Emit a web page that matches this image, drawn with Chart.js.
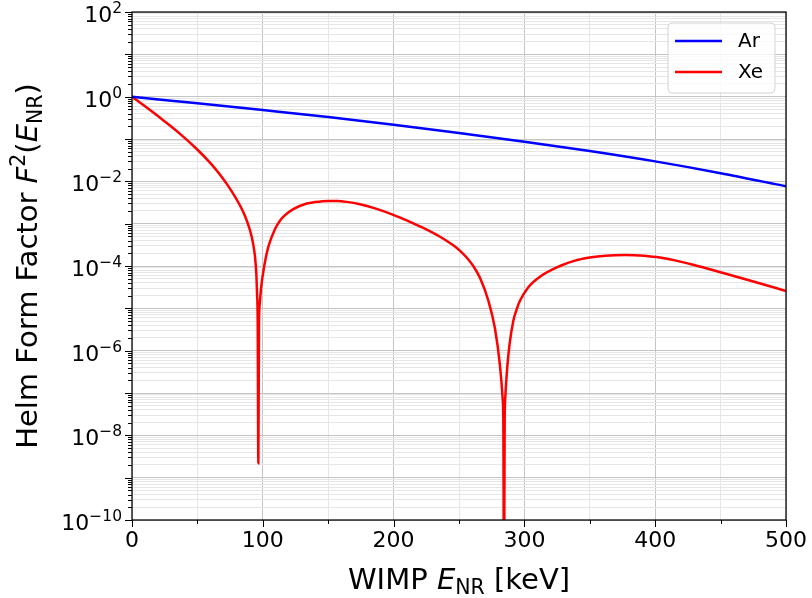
<!DOCTYPE html>
<html>
<head>
<meta charset="utf-8">
<title>Helm form factor</title>
<script src="https://cdn.jsdelivr.net/npm/chart.js@4.4.1/dist/chart.umd.min.js"></script>
<style>
  html, body { margin: 0; padding: 0; background: #fff; }
  #wrap { width: 812px; height: 598px; }
</style>
</head>
<body>
<div id="wrap"><canvas id="ffChart"></canvas></div>
<script>
// recoil energy [keV] vs squared Helm form factor, argon
const arEnergy = [0, 50, 100, 150, 200, 250, 300, 350, 400, 450, 500];
const arF2 = [1.0, 0.695, 0.483, 0.332, 0.217, 0.138, 0.0865, 0.0521, 0.0296, 0.0156, 0.00764];

// xenon, two diffraction minima near 97 and 284 keV
const xeEnergy = [0, 12, 24, 36.7, 49.5, 59.6, 67.3, 74.9, 82.6, 86.4,
  90.2, 92.5, 94, 95.1, 95.6, 96.1, 96.6, 97.1, 97.6, 98.6,
  101.1, 104.2, 109.3, 113.1, 117, 123.3, 133.6, 140, 150, 157,
  164, 174.3, 187, 199.8, 211, 222.7, 235.5, 245.6, 250.8, 255.5,
  260.9, 266.1, 272.4, 277.5, 281.3, 283.4, 283.9, 284.4, 284.9, 285.4,
  286.5, 288.5, 291.5, 294.1, 296.6, 303, 311.9, 327.2, 338, 350,
  362, 377, 388, 395, 401, 408, 415, 429, 452, 475,
  500];
const xeF2 = [1.0, 0.530, 0.275, 0.1324, 0.0581, 0.0276, 0.01432, 6.75e-3, 2.69e-3, 1.51e-3,
  6.98e-4, 3.51e-4, 1.70e-4, 6.17e-5, 2.19e-5, 5.0e-6, 2.2e-9, 5.0e-6, 1.2e-5, 2.88e-5,
  1.0e-4, 2.82e-4, 7.41e-4, 1.175e-3, 1.585e-3, 2.21e-3, 2.985e-3, 3.236e-3, 3.44e-3, 3.43e-3,
  3.27e-3, 2.87e-3, 2.24e-3, 1.62e-3, 1.16e-3, 7.94e-4, 4.9e-4, 3.08e-4, 2.28e-4, 1.63e-4,
  1.0e-4, 5.18e-5, 1.53e-5, 3.33e-6, 4.47e-7, 7.1e-8, 2e-8, 1e-12, 2e-8, 8e-8,
  2.8e-7, 1.29e-6, 5.0e-6, 9.5e-6, 1.51e-5, 3.16e-5, 5.6e-5, 1.0e-4, 1.32e-4, 1.58e-4,
  1.75e-4, 1.82e-4, 1.77e-4, 1.71e-4, 1.63e-4, 1.51e-4, 1.36e-4, 1.07e-4, 6.84e-5, 4.32e-5,
  2.57e-5];

const xTickValues = [0, 100, 200, 300, 400, 500];
const yLabelExponents = [2, 0, -2, -4, -6, -8, -10];

const FONT = '"DejaVu Sans", sans-serif';

function toPoints(xs, ys) {
  return xs.map((x, i) => ({ x: x, y: ys[i] }));
}

function isDecade(v) {
  const l = Math.log10(v);
  return Math.abs(l - Math.round(l)) < 1e-6;
}

// draw a run of text pieces: [text, font, dy]
function drawPieces(ctx, pieces, x, y, align) {
  let total = 0;
  pieces.forEach(p => { ctx.font = p[1]; total += ctx.measureText(p[0]).width; });
  let cx = align === 'center' ? x - total / 2 : align === 'right' ? x - total : x;
  ctx.textAlign = 'left';
  pieces.forEach(p => {
    ctx.font = p[1];
    ctx.fillText(p[0], cx, y + (p[2] || 0));
    cx += ctx.measureText(p[0]).width;
  });
}

// frame, tick marks, tick labels, axis titles and legend
const axesDecor = {
  id: 'axesDecor',
  afterDraw(chart) {
    const { ctx, chartArea: a, scales } = chart;
    const x = scales.x, y = scales.y;
    ctx.save();
    ctx.strokeStyle = '#000';
    ctx.fillStyle = '#000';
    ctx.lineWidth = 1.25;
    ctx.strokeRect(a.left, a.top, a.right - a.left, a.bottom - a.top);

    ctx.lineWidth = 1;
    ctx.beginPath();
    x.ticks.forEach(t => {
      const px = Math.round(x.getPixelForValue(t.value)) + 0.5;
      const len = t.value % 100 === 0 ? 7 : 4;
      ctx.moveTo(px, a.bottom);
      ctx.lineTo(px, a.bottom + len);
    });
    y.ticks.forEach(t => {
      const py = Math.round(y.getPixelForValue(t.value)) + 0.5;
      const len = isDecade(t.value) ? 7 : 4;
      ctx.moveTo(a.left, py);
      ctx.lineTo(a.left - len, py);
    });
    ctx.stroke();

    // x tick labels
    ctx.font = '22px ' + FONT;
    ctx.textAlign = 'center';
    ctx.textBaseline = 'top';
    xTickValues.forEach(v => {
      ctx.fillText(String(v), x.getPixelForValue(v), a.bottom + 10);
    });

    // y tick labels as powers of ten
    ctx.textBaseline = 'alphabetic';
    yLabelExponents.forEach(e => {
      const py = y.getPixelForValue(Math.pow(10, e));
      const expText = e < 0 ? '\u2212' + Math.abs(e) : String(e);
      drawPieces(ctx, [
        ['10', '22px ' + FONT, 0],
        [expText, '15.5px ' + FONT, -9]
      ], a.left - 10, py + 10, 'right');
    });

    // axis titles
    const big = '29px ' + FONT;
    const bigIt = 'italic 29px ' + FONT;
    const small = '20.5px ' + FONT;
    drawPieces(ctx, [
      ['WIMP ', big, 0],
      ['E', bigIt, 0],
      ['NR', small, 5],
      [' [keV]', big, 0]
    ], (a.left + a.right) / 2, 589, 'center');

    ctx.save();
    ctx.translate(37, (a.top + a.bottom) / 2);
    ctx.rotate(-Math.PI / 2);
    drawPieces(ctx, [
      ['Helm Form Factor ', big, 0],
      ['F', bigIt, 0],
      ['2', small, -12],
      ['(', big, 0],
      ['E', bigIt, 0],
      ['NR', small, 5],
      [')', big, 0]
    ], 0, 0, 'center');
    ctx.restore();

    // legend box in the upper right corner
    const bx = a.right - 118, by = a.top + 11, bw = 107, bh = 70;
    ctx.beginPath();
    ctx.roundRect(bx, by, bw, bh, 4);
    ctx.fillStyle = 'rgba(255,255,255,0.8)';
    ctx.fill();
    ctx.strokeStyle = '#d3d3d3';
    ctx.lineWidth = 1;
    ctx.stroke();
    ctx.textBaseline = 'middle';
    ctx.textAlign = 'left';
    ctx.font = '20px ' + FONT;
    chart.data.datasets.forEach((ds, i) => {
      const ly = by + 18 + i * 31;
      ctx.strokeStyle = ds.borderColor;
      ctx.lineWidth = 2.5;
      ctx.beginPath();
      ctx.moveTo(bx + 7, ly);
      ctx.lineTo(bx + 54, ly);
      ctx.stroke();
      ctx.fillStyle = '#000';
      ctx.fillText(ds.label, bx + 70, ly + 1);
    });
    ctx.restore();
  }
};

const ctx = document.getElementById('ffChart').getContext('2d');
new Chart(ctx, {
  type: 'line',
  data: {
    datasets: [{
      label: 'Ar',
      data: toPoints(arEnergy, arF2),
      borderColor: '#0000ff',
      borderWidth: 2.5,
      pointRadius: 0,
      cubicInterpolationMode: 'monotone',
      clip: 0
    }, {
      label: 'Xe',
      data: toPoints(xeEnergy, xeF2),
      borderColor: '#ff0000',
      borderWidth: 2.5,
      pointRadius: 0,
      cubicInterpolationMode: 'monotone',
      clip: 0
    }]
  },
  options: {
    responsive: true,
    maintainAspectRatio: false,
    animation: false,
    layout: { padding: { left: 132, top: 12, right: 26, bottom: 78 } },
    plugins: {
      legend: { display: false },
      tooltip: { enabled: false }
    },
    scales: {
      x: {
        type: 'linear',
        min: 0,
        max: 500,
        border: { display: false },
        ticks: { display: false, stepSize: 50 },
        grid: {
          drawTicks: false,
          lineWidth: 1,
          color: c => (c.tick && c.tick.value % 100 === 0) ? '#c4c4c4' : '#e6e6e6'
        }
      },
      y: {
        type: 'logarithmic',
        min: 1e-10,
        max: 1e2,
        border: { display: false },
        ticks: { display: false },
        afterBuildTicks: scale => {
          const t = [];
          for (let e = -10; e <= 2; e++) {
            for (let m = 1; m <= 9; m++) {
              if (e === 2 && m > 1) break;
              t.push({ value: m * Math.pow(10, e) });
            }
          }
          scale.ticks = t;
        },
        grid: {
          drawTicks: false,
          lineWidth: 1,
          color: c => (c.tick && isDecade(c.tick.value)) ? '#c4c4c4' : '#e6e6e6'
        }
      }
    }
  },
  plugins: [axesDecor]
});
</script>
</body>
</html>
